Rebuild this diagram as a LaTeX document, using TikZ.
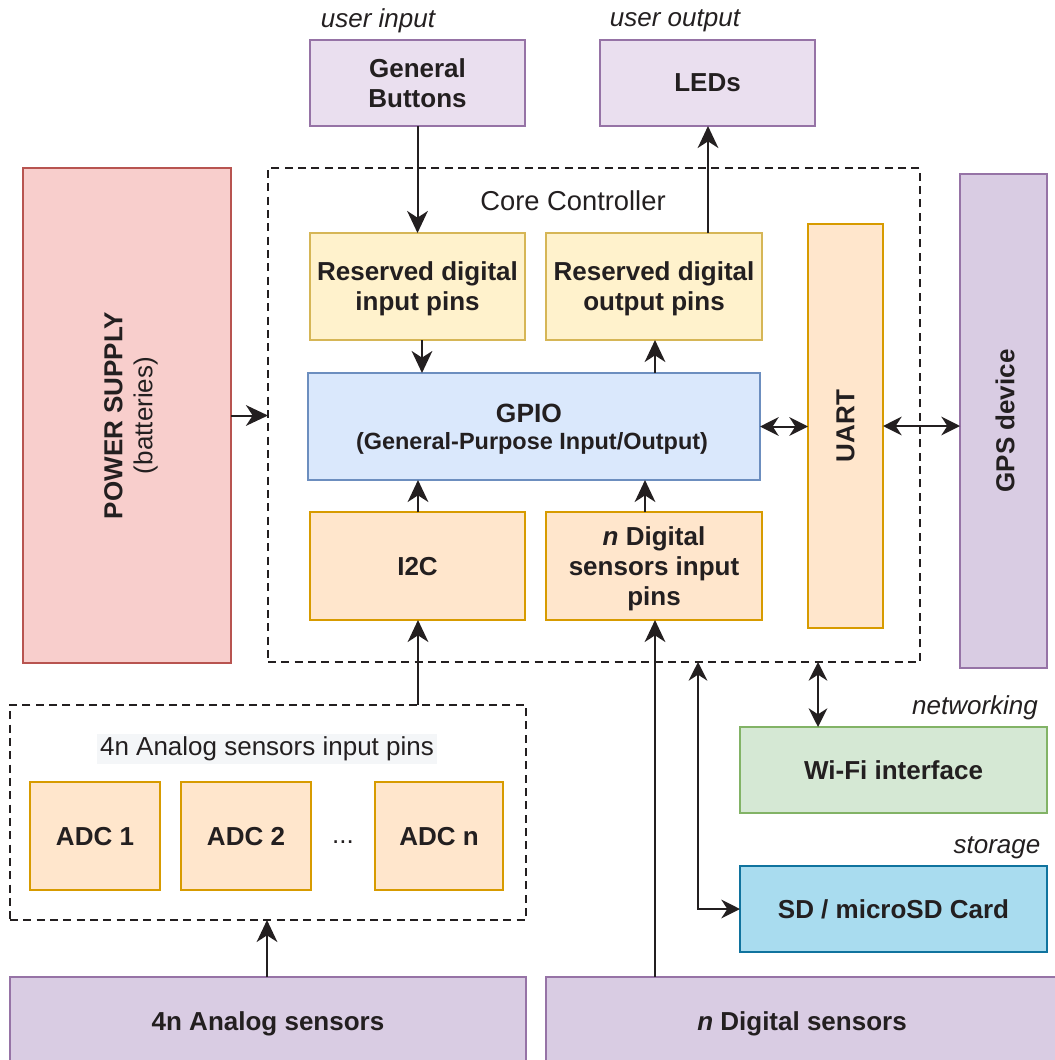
\documentclass[tikz,border=0pt]{standalone}
\usepackage{fontspec}
\setmainfont{Liberation Sans}
\usetikzlibrary{arrows.meta}
\definecolor{txt}{HTML}{231F20}
\definecolor{purL}{HTML}{EADFEF}
\definecolor{purD}{HTML}{D9CCE3}
\definecolor{purB}{HTML}{9673A6}
\definecolor{yelF}{HTML}{FFF2CC}
\definecolor{yelB}{HTML}{D6B656}
\definecolor{orF}{HTML}{FFE6CC}
\definecolor{orB}{HTML}{D79B00}
\definecolor{bluF}{HTML}{DAE8FC}
\definecolor{bluB}{HTML}{6C8EBF}
\definecolor{redF}{HTML}{F8CECC}
\definecolor{redB}{HTML}{B85450}
\definecolor{grnF}{HTML}{D5E8D4}
\definecolor{grnB}{HTML}{82B366}
\definecolor{sdF}{HTML}{A9DCEF}
\definecolor{sdB}{HTML}{10739E}
\definecolor{lblbg}{HTML}{F4F6F8}
\tikzset{
  sz/.style 2 args={minimum width=#1*0.75pt, minimum height=#2*0.75pt},
  bx/.style={draw, line width=1.4pt, inner sep=0pt, outer sep=0pt, align=center, text depth=0pt,
    text=txt, font=\fontsize{19.5}{22.5}\selectfont\bfseries},
  purl/.style={bx, fill=purL, draw=purB},
  purd/.style={bx, fill=purD, draw=purB},
  yel/.style={bx, fill=yelF, draw=yelB},
  ora/.style={bx, fill=orF, draw=orB},
  dbox/.style={draw=txt, dashed, dash pattern=on 6pt off 4pt, line width=1.2pt, inner sep=0pt, outer sep=0pt},
  lbl/.style={text=txt, font=\fontsize{19.5}{22.5}\selectfont},
  ilbl/.style={text=txt, font=\fontsize{19.5}{22.5}\selectfont\itshape},
  arr/.style={draw=txt, line width=1.5pt, -{Stealth[length=16.5pt,width=15.5pt,inset=5pt]}},
  darr/.style={draw=txt, line width=1.5pt, {Stealth[length=14pt,width=14pt,inset=4.5pt]}-{Stealth[length=14pt,width=14pt,inset=4.5pt]}},
}
\begin{document}
\begin{tikzpicture}[x=0.75pt, y=-0.75pt]
\useasboundingbox (0,0) rectangle (1055,1060);
\clip (0,0) rectangle (1055,1060);
% top
\node[ilbl] (uin) at (378,21) {user input};
\node[ilbl] (uout) at (675,21) {user output};
\node[purl, sz={215}{86}] (btn) at (417.5,83) {General\\Buttons};
\node[purl, sz={215}{86}] (led) at (707.5,83) {LEDs};
% core
\node[dbox, sz={652}{494}] (core) at (594,415) {};
\node[lbl, font=\fontsize{20.5}{23}\selectfont] (corelbl) at (573,201) {Core Controller};
\node[yel, sz={215}{107}] (rin) at (417.5,286.5) {Reserved digital\\input pins};
\node[yel, sz={216}{107}] (rout) at (654,286.5) {Reserved digital\\output pins};
\node[bx, fill=bluF, draw=bluB, sz={452}{107}] (gpio) at (534,426.5) {};
\node[text=txt, font=\fontsize{19.8}{22}\selectfont\bfseries] (gpiot) at (529,413) {GPIO};
\node[text=txt, font=\fontsize{17.6}{20}\selectfont\bfseries] (gpios) at (532,443) {(General-Purpose Input/Output)};
\node[ora, sz={215}{108}] (i2c) at (417.5,566) {I2C};
\node[ora, sz={216}{108}] (dpins) at (654,566) {\textit{n} Digital\\sensors input\\pins};
\node[ora, sz={75}{404}] (uart) at (845.5,426) {};
\node[text=txt, rotate=90, font=\fontsize{19.5}{22.5}\selectfont\bfseries] (uartt) at (uart) {UART};
% power
\node[bx, fill=redF, draw=redB, sz={208}{495}] (pwr) at (127,415.5) {};
\node[text=txt, rotate=90, align=center, font=\fontsize{19.5}{22.5}\selectfont] (pwrt) at (131,415.5) {\textbf{POWER SUPPLY}\\(batteries)};
% gps
\node[purd, sz={87}{494}] (gps) at (1003.5,421) {};
\node[text=txt, rotate=90, font=\fontsize{19.5}{22.5}\selectfont\bfseries] (gpst) at (1005,421) {GPS device};
% analog box
\node[dbox, sz={516}{215}] (abox) at (268,812.5) {};
\node[lbl, fill=lblbg, inner sep=2pt] (aboxl) at (267,749) {4n Analog sensors input pins};
\node[ora, sz={130}{108}] (adc1) at (95,836) {ADC 1};
\node[ora, sz={130}{108}] (adc2) at (246,836) {ADC 2};
\node[ora, sz={128}{108}] (adcn) at (439,836) {ADC n};
\node[lbl] (dots) at (343,842) {...};
% wifi / sd
\node[ilbl] (netl) at (975,708) {networking};
\node[bx, fill=grnF, draw=grnB, sz={307}{86}] (wifi) at (893.5,770) {Wi-Fi interface};
\node[ilbl] (stol) at (997,848) {storage};
\node[bx, fill=sdF, draw=sdB, sz={307}{86}] (sd) at (893.5,909) {SD / microSD Card};
% bottom sensors
\node[purd, sz={516}{90}] (asens) at (268,1022) {};
\node[text=txt, font=\fontsize{19.5}{22.5}\selectfont\bfseries] (asenst) at (268,1024) {4n Analog sensors};
\node[purd, sz={514}{90}] (dsens) at (803,1022) {};
\node[text=txt, font=\fontsize{19.5}{22.5}\selectfont\bfseries] (dsenst) at (802,1024) {\textit{n} Digital sensors};
% helper coordinates
\coordinate (xled) at (708,0);
\coordinate (xrout) at (655,0);
\coordinate (xrin) at (422,0);
\coordinate (xdp) at (645,0);
\coordinate (xds) at (655,0);
\coordinate (xwf) at (818,0);
\coordinate (xsd) at (698,0);
\coordinate (xi2c) at (418,0);
\coordinate (xas) at (267,0);
% connectors
\draw[arr] (btn.south) -- (rin.north);
\draw[arr] (xled |- rout.north) -- (xled |- led.south);
\draw[arr] (xrin |- rin.south) -- (xrin |- gpio.north);
\draw[arr] (xrout |- gpio.north) -- (xrout |- rout.south);
\draw[arr] (xi2c |- i2c.north) -- (xi2c |- gpio.south);
\draw[arr] (xdp |- dpins.north) -- (xdp |- gpio.south);
\draw[darr] (gpio.east) -- (gpio.east -| uart.west);
\draw[darr] (uart.east) -- (uart.east -| gps.west);
\draw[arr] (pwr.east) -- (pwr.east -| core.west);
\draw[arr] (xi2c |- abox.north) -- (xi2c |- i2c.south);
\draw[arr] (xas |- asens.north) -- (xas |- abox.south);
\draw[arr] (xds |- dsens.north) -- (xds |- dpins.south);
\draw[darr] (xwf |- core.south) -- (xwf |- wifi.north);
\draw[darr] (sd.west) -| (xsd |- core.south);
\end{tikzpicture}
\end{document}
